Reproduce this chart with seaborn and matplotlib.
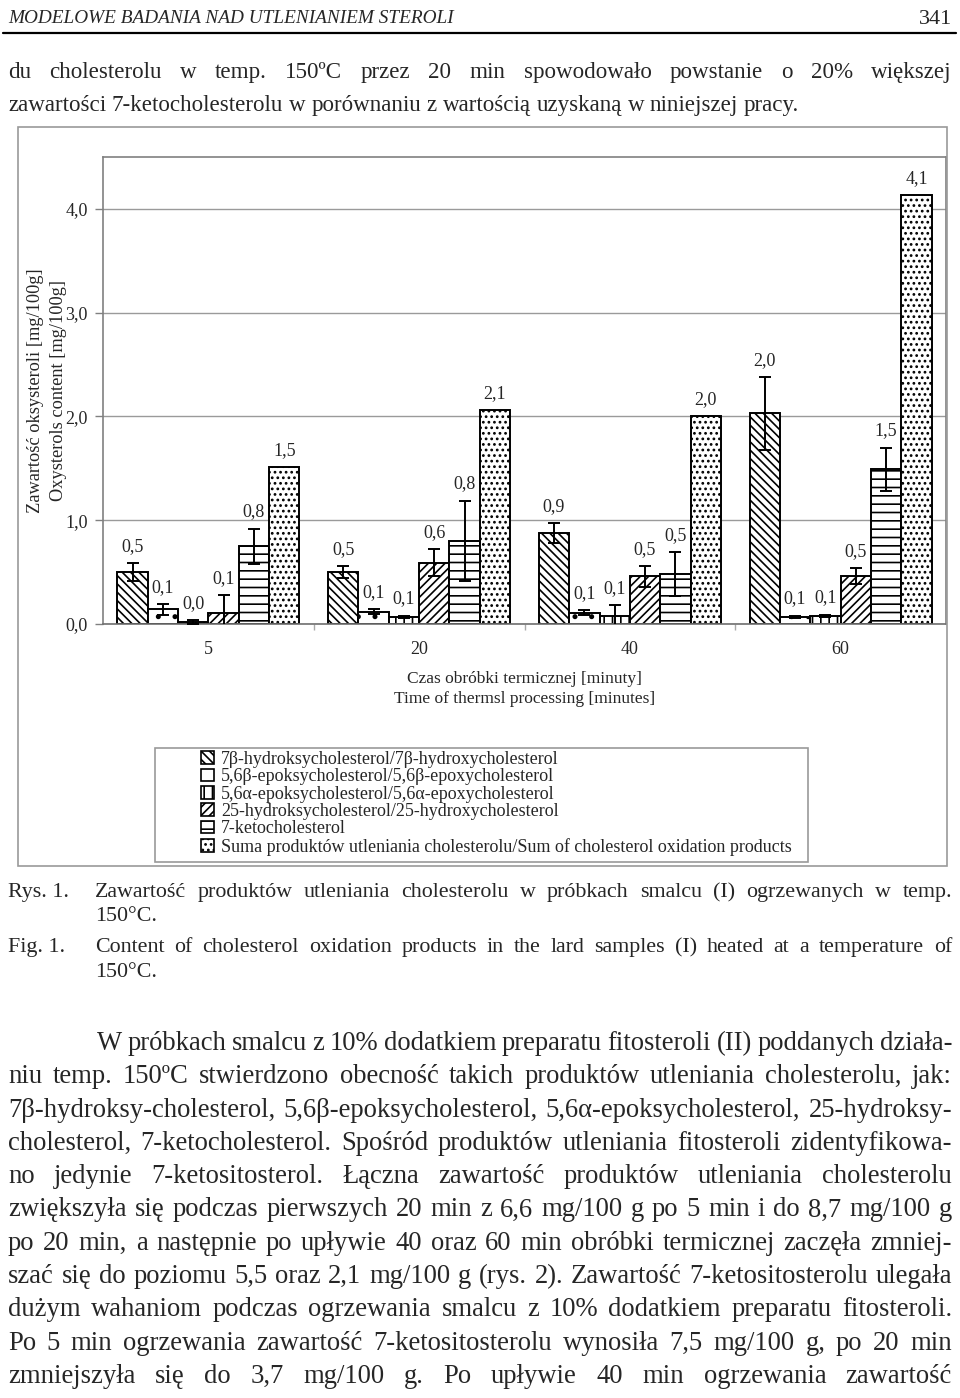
import numpy as np
import pandas as pd
import seaborn as sns
import matplotlib
matplotlib.use("Agg")
import matplotlib.pyplot as plt
import matplotlib.transforms as mtransforms
from matplotlib.patches import Rectangle, Patch
from matplotlib.lines import Line2D
from matplotlib.ticker import FuncFormatter

# ---------------- data ----------------
times = ["5", "20", "40", "60"]
compounds = [
    "7β-hydroksycholesterol/7β-hydroxycholesterol",
    "5,6β-epoksycholesterol/5,6β-epoxycholesterol",
    "5,6α-epoksycholesterol/5,6α-epoxycholesterol",
    "25-hydroksycholesterol/25-hydroxycholesterol",
    "7-ketocholesterol",
    "Suma produktów utleniania cholesterolu/Sum of cholesterol oxidation products",
]
v_7b = [0.50, 0.50, 0.88, 2.03]
v_56b = [0.14, 0.12, 0.11, 0.07]
v_56a = [0.02, 0.07, 0.08, 0.08]
v_25 = [0.11, 0.59, 0.46, 0.46]
v_7k = [0.75, 0.80, 0.48, 1.49]
v_sum = [1.51, 2.06, 2.00, 4.13]

e_7b = [0.085, 0.055, 0.095, 0.35]
e_56b = [0.05, 0.025, 0.025, 0.01]
e_56a = [0.02, 0.01, 0.10, 0.01]
e_25 = [0.17, 0.13, 0.10, 0.075]
e_7k = [0.17, 0.39, 0.21, 0.21]
e_sum = [0.0, 0.0, 0.0, 0.0]

yticks = [0, 1, 2, 3, 4]
xlabel_txt = "Czas obróbki termicznej [minuty]\nTime of thermsl processing [minutes]"
ylabel_txt = "Zawartość oksysteroli [mg/100g]\nOxysterols content [mg/100g]"

header_txt = "MODELOWE BADANIA NAD UTLENIANIEM STEROLI"
page_no = "341"
top_lines = [
    "du cholesterolu w temp. 150ºC przez 20 min spowodowało powstanie o 20% większej",
    "zawartości 7-ketocholesterolu w porównaniu z wartością uzyskaną w niniejszej pracy.",
]
cap_pl = ["Zawartość produktów utleniania cholesterolu w próbkach smalcu (I) ogrzewanych w temp.",
          "150°C."]
cap_en = ["Content of cholesterol oxidation products in the lard samples (I) heated at a temperature of",
          "150°C."]
body_lines = [
    "W próbkach smalcu z 10% dodatkiem preparatu fitosteroli (II) poddanych działa-",
    "niu temp. 150ºC stwierdzono obecność takich produktów utleniania cholesterolu, jak:",
    "7β-hydroksy-cholesterol, 5,6β-epoksycholesterol, 5,6α-epoksycholesterol, 25-hydroksy-",
    "cholesterol, 7-ketocholesterol. Spośród produktów utleniania fitosteroli zidentyfikowa-",
    "no jedynie 7-ketositosterol. Łączna zawartość produktów utleniania cholesterolu",
    "zwiększyła się podczas pierwszych 20 min z 6,6 mg/100 g po 5 min i do 8,7 mg/100 g",
    "po 20 min, a następnie po upływie 40 oraz 60 min obróbki termicznej zaczęła zmniej-",
    "szać się do poziomu 5,5 oraz 2,1 mg/100 g (rys. 2). Zawartość 7-ketositosterolu ulegała",
    "dużym wahaniom podczas ogrzewania smalcu z 10% dodatkiem preparatu fitosteroli.",
    "Po 5 min ogrzewania zawartość 7-ketositosterolu wynosiła 7,5 mg/100 g, po 20 min",
    "zmniejszyła się do 3,7 mg/100 g. Po upływie 40 min ogrzewania zawartość",
]

values = [v_7b, v_56b, v_56a, v_25, v_7k, v_sum]
errors = [e_7b, e_56b, e_56a, e_25, e_7k, e_sum]
hatches = ["\\\\\\\\", ".", "||", "////", "--", "..."]

# ---------------- style ----------------
W, H = 960, 1398
sns.set_style("white")
plt.rcParams["font.family"] = ["Liberation Serif", "DejaVu Serif"]
plt.rcParams["hatch.linewidth"] = 1.2
plt.rcParams["hatch.color"] = "black"

fig = plt.figure(figsize=(W / 100, H / 100), dpi=100)
px = mtransforms.Affine2D().scale(1 / W, -1 / H).translate(0, 1) + fig.transFigure

ax = fig.add_axes([103 / W, 1 - 624 / H, 843 / W, 467 / H])

rows = []
for c, vals in zip(compounds, values):
    for t, v in zip(times, vals):
        rows.append({"time": t, "compound": c, "value": v})
df = pd.DataFrame(rows)

sns.barplot(data=df, x="time", y="value", hue="compound", order=times,
            hue_order=compounds, palette={c: "white" for c in compounds},
            edgecolor="black", linewidth=1.4, width=0.864, gap=0,
            errorbar=None, legend=False, saturation=1, ax=ax)

for cont, h in zip(ax.containers, hatches):
    for bar in cont:
        bar.set_hatch(h)

for cont, errs in zip(ax.containers, errors):
    xs = [b.get_x() + b.get_width() / 2 for b in cont]
    ys = [b.get_height() for b in cont]
    if any(e > 0 for e in errs):
        ax.errorbar(xs, ys, yerr=errs, fmt="none", ecolor="black",
                    elinewidth=1.4, capsize=4.5, capthick=1.4, zorder=4)
    for x, y, e in zip(xs, ys, errs):
        ax.annotate(f"{y:.1f}".replace(".", ","), xy=(x, y + e), xytext=(0, 12),
                    textcoords="offset points", ha="center", va="center",
                    fontsize=13, zorder=5)

ax.set_xlim(-0.5, 3.5)
ax.set_ylim(0, 4.5)
ax.set_yticks(yticks)
ax.yaxis.set_major_formatter(FuncFormatter(lambda v, p: f"{v:.1f}".replace(".", ",")))
ax.set_axisbelow(True)
ax.yaxis.grid(True, color="#9a9a9a", lw=1)
ax.xaxis.grid(False)
ax.tick_params(axis="y", which="major", left=True, length=6, color="#808080",
               width=1, labelsize=13, pad=5)
ax.tick_params(axis="x", which="major", bottom=True, length=0, labelsize=13, pad=12)
ax.set_xticks([0.5, 1.5, 2.5], minor=True)
ax.tick_params(axis="x", which="minor", bottom=True, length=4, color="#aaaaaa", width=1)
for s in ax.spines.values():
    s.set_visible(True)
    s.set_color("#808080")
    s.set_linewidth(1.2)
ax.spines["bottom"].set_color("#707070")

ax.set_xlabel(xlabel_txt, fontsize=12.5, linespacing=1.3)
ax.xaxis.set_label_coords(0.5, (624 - 671) / 467)
ax.set_ylabel(ylabel_txt, fontsize=13.2, linespacing=1.45)
ax.yaxis.set_label_coords((67 - 103) / 843, 0.5)

# chart frame
fig.add_artist(Rectangle((18 / W, 1 - 866 / H), (947 - 18) / W, (866 - 127) / H,
                         transform=fig.transFigure, fill=False, edgecolor="#9a9a9a", lw=1.2))
# legend frame
fig.add_artist(Rectangle((155 / W, 1 - 862 / H), (808 - 155) / W, (862 - 748) / H,
                         transform=fig.transFigure, fill=False, edgecolor="#9a9a9a", lw=1.2))
handles = [Patch(facecolor="white", edgecolor="black", hatch=h, lw=1.2) for h in hatches]
fig.legend(handles, compounds, loc="upper left", bbox_to_anchor=(201 / W, 1 - 751 / H),
           frameon=False, fontsize=13, handlelength=0.7, handleheight=0.7,
           handletextpad=0.4, labelspacing=0.02, borderpad=0, borderaxespad=0)

# ---------------- page text ----------------
renderer = fig.canvas.get_renderer()


def measure(s, size, style="normal"):
    t = fig.text(0, 0, s, fontsize=size, fontstyle=style)
    w = t.get_window_extent(renderer).width
    t.remove()
    return w


def draw_line(text, x0, x1, y, size, justify=True, style="normal"):
    words = text.split(" ")
    widths = [measure(w, size, style) for w in words]
    space = size * 100 / 72 * 0.25
    if justify and len(words) > 1:
        gap = (x1 - x0 - sum(widths)) / (len(words) - 1)
    else:
        gap = space
    x = x0
    for w, wd in zip(words, widths):
        fig.text(x, y, w, transform=px, fontsize=size, fontstyle=style,
                 ha="left", va="baseline")
        x += wd + gap


def fit_size(lines, x0s, x1, size, gapem):
    best = 1e9
    for ln, x0 in zip(lines, x0s):
        words = ln.split(" ")
        nat = sum(measure(w, size) for w in words) + (len(words) - 1) * size * 100 / 72 * gapem
        best = min(best, size * (x1 - x0) / nat)
    return best


# header
hs = 12.0 * 444 / measure(header_txt, 12.0, "italic")
fig.text(8, 23, header_txt, transform=px, fontsize=hs, fontstyle="italic",
         ha="left", va="baseline")
fig.text(952, 24, page_no, transform=px, fontsize=16, ha="right", va="baseline")
fig.add_artist(Line2D([3 / W, 956 / W], [1 - 33 / H, 1 - 33 / H],
                      transform=fig.transFigure, color="black", lw=1.6))

# top paragraph lines (second line ends near x=798 in the page)
ts = fit_size(top_lines[1:], [8], 798, 18, 0.25)
draw_line(top_lines[0], 8, 952, 78, ts, justify=True)
draw_line(top_lines[1], 8, 952, 111, ts, justify=False)

# captions
cs = fit_size([cap_pl[0], cap_en[0]], [95, 95], 952, 16, 0.45)
fig.text(8, 897, "Rys. 1.", transform=px, fontsize=cs, ha="left", va="baseline")
draw_line(cap_pl[0], 95, 952, 897, cs, justify=True)
draw_line(cap_pl[1], 95, 952, 921, cs, justify=False)
fig.text(8, 952, "Fig. 1.", transform=px, fontsize=cs, ha="left", va="baseline")
draw_line(cap_en[0], 95, 952, 952, cs, justify=True)
draw_line(cap_en[1], 95, 952, 977, cs, justify=False)

# body paragraph
x0s = [97] + [8] * (len(body_lines) - 1)
bs = fit_size(body_lines, x0s, 952, 18, 0.2)
for i, (ln, x0) in enumerate(zip(body_lines, x0s)):
    draw_line(ln, x0, 952, 1050 + 33.3 * i, bs, justify=True)

fig.savefig("out.png", dpi=100)
